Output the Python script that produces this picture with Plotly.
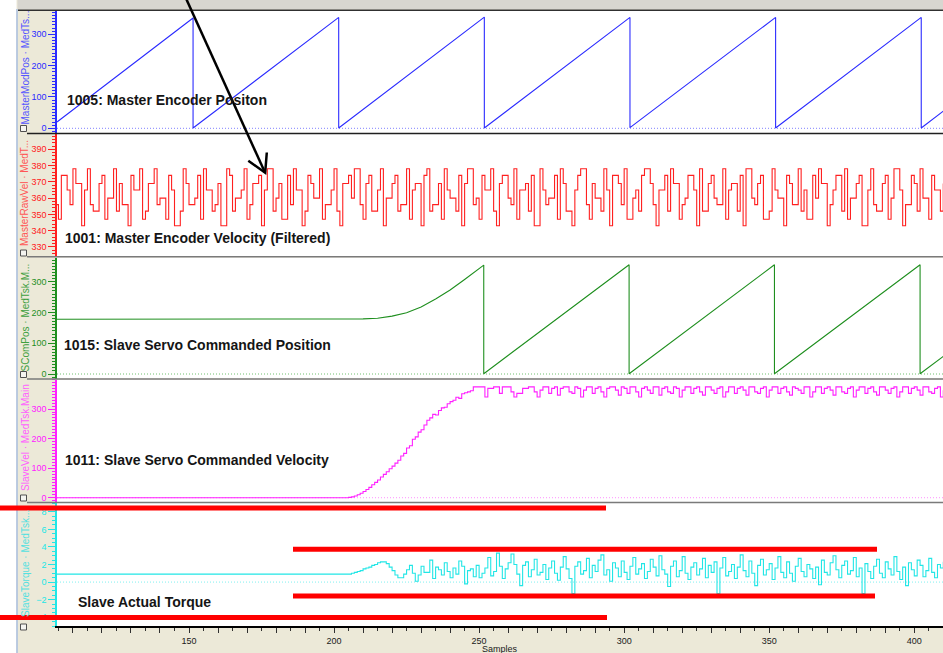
import plotly.graph_objects as go

# ---------------------------------------------------------------- data
# shared sample axis
x_range = [104.5, 409.9]
x_tick_vals = list(range(110, 411, 10))
x_tick_text = [str(v) if v % 50 == 0 else "" for v in x_tick_vals]

# 1005: master encoder position, sawtooth breakpoints (sample, deg)
master_pos_samples = [104.5, 151.4, 151.4, 201.6, 201.6, 251.8, 251.8,
                      302.0, 302.0, 352.2, 352.2, 402.4, 402.4, 410.0]
master_pos_values = [20, 352, 1, 354, 1, 355, 1, 354, 2, 354, 1, 354, 1, 55]

# 1001: master encoder velocity (filtered), one value per sample from 104
master_vel_values = [
    356,
    347, 374, 374, 365, 356, 378, 369, 369, 343, 365,
    378, 356, 352, 352, 369, 374, 347, 360, 360, 378,
    352, 369, 356, 356, 343, 374, 365, 365, 378, 347,
    352, 369, 369, 378, 356, 360, 360, 347, 374, 365,
    343, 343, 352, 378, 369, 356, 356, 360, 374, 347,
    378, 365, 365, 352, 356, 369, 343, 343, 378, 374,
    352, 360, 360, 365, 378, 347, 356, 369, 369, 374,
    343, 365, 378, 378, 352, 360, 369, 347, 347, 374,
    356, 378, 365, 365, 343, 352, 374, 369, 360, 360,
    378, 347, 356, 356, 365, 378, 352, 343, 369, 369,
    374, 360, 378, 378, 356, 347, 369, 374, 352, 352,
    365, 378, 343, 360, 360, 369, 374, 352, 356, 356,
    378, 347, 365, 369, 369, 343, 374, 378, 352, 356,
    356, 369, 347, 378, 365, 360, 360, 352, 374, 343,
    369, 378, 378, 356, 360, 347, 374, 365, 365, 378,
    352, 343, 369, 374, 374, 360, 356, 378, 347, 365,
    365, 369, 352, 374, 343, 343, 378, 365, 356, 360,
    360, 374, 347, 378, 369, 352, 352, 343, 365, 374,
    378, 378, 356, 347, 369, 360, 360, 352, 378, 365,
    343, 374, 374, 369, 356, 378, 347, 347, 360, 365,
    352, 374, 378, 378, 369, 356, 343, 365, 365, 374,
    352, 378, 369, 369, 347, 356, 360, 374, 374, 365,
    343, 378, 352, 352, 369, 374, 360, 356, 356, 378,
    347, 365, 369, 369, 352, 374, 343, 378, 378, 360,
    356, 369, 374, 347, 347, 352, 378, 365, 360, 360,
    343, 374, 369, 356, 356, 378, 352, 365, 347, 347,
    374, 360, 378, 369, 369, 343, 356, 365, 374, 374,
    352, 378, 347, 360, 360, 369, 374, 343, 343, 365,
    378, 356, 352, 352, 369, 374, 347, 360, 378, 378,
    365, 343, 356, 356, 374, 369, 352, 378, 360, 360,
    347, 374, 365, 365, 352, 369,
]
master_vel_samples = list(range(104, 104 + len(master_vel_values)))

# 1015: slave servo commanded position, breakpoints (sample, deg)
slave_pos_samples = [104.5, 205, 210, 215, 220, 225, 230, 235, 240, 245,
                     251.6, 251.6, 301.7, 301.7, 351.8, 351.8, 402.0, 402.0, 410.0]
slave_pos_values = [178, 178, 179, 181, 188, 199, 218, 244, 273, 307,
                    354, 1, 355, 1, 355, 1, 355, 1, 57]

# 1011: slave servo commanded velocity; held at 0 from 104, then per sample from 204
slave_vel_values = [
    0,
    0, 1, 3, 6, 10, 15, 21, 28, 35, 44,
    52, 60, 70, 79, 88, 98, 107, 117, 127, 141,
    150, 168, 176, 198, 206, 222, 230, 246, 262, 270,
    282, 280, 295, 304, 306, 318, 325, 330, 340, 336,
    352, 355, 358, 362, 375, 375, 375, 375, 341, 370,
    370, 375, 375, 353, 375, 375, 375, 358, 341, 353,
    353, 370, 370,
    375, 375, 358, 341, 364, 375, 375, 353, 370, 375,
    347, 370, 375, 375, 358, 353, 375, 370, 341, 364,
    375, 375, 353, 370, 375, 358, 341, 370, 375, 375,
    364, 347, 375, 370, 353, 375, 375, 358, 341, 370,
    375, 364, 353, 375, 375, 347, 370, 375, 358, 353,
    375, 370, 341, 364, 375, 375, 353, 370, 375, 358,
    347, 375, 375, 364, 353, 370, 375, 341, 358, 375,
    375, 353, 370, 375, 364, 347, 375, 375, 358, 353,
    370, 375, 341, 364, 375, 375, 353, 370, 375, 358,
    347, 375, 370, 364, 353, 375, 375, 341, 358, 375,
    375, 353, 370, 375, 364, 347, 375, 375, 358, 353,
    370, 375, 341, 364, 375, 375, 353, 370, 375, 358,
    347, 375, 375, 364, 353, 370, 375, 341, 358, 375,
    375, 353, 370, 375, 364, 347, 375, 375, 358, 353,
    370, 375, 341, 364,
]
slave_vel_samples = [104] + list(range(204, 204 + len(slave_vel_values) - 1))

# slave actual torque; held from 104, then per sample from 206
slave_torque_values = [
    0.9,
    1.0, 1.1, 1.2, 1.3, 1.5, 1.6, 1.7, 1.9, 2.0, 2.2,
    2.3, 2.3, 2.1, 1.7, 1.3, 0.8, 0.5, 0.5, 0.9, 1.4,
    1.9, 1.0, 0.1, 0.8, 1.8, 1.1, 1.1, 2.5, 0.4, 1.7,
    1.4, 0.8, 2.2, 1.2, 0.5, 1.6, 0.9, 2.4, 1.8, -0.2,
    1.3, 1.5, 0.6, 1.9, 0.5, 1.0, 1.6, 2.8, 0.7, 1.2,
    3.3, 1.8, 0.4, 1.5, 2.2, 3.2, 2.0, 0.9, -0.4, 1.9,
    2.3, 0.6, 1.4, 2.6, 0.8, 1.1, 2.0, 0.3, 1.6, 2.4,
    1.0, 0.2, 1.7, 2.9, 1.5, 0.4, -1.3, 1.8, 2.3, 0.9,
    1.3, 2.7, 0.5, 1.9, 1.2, 2.5, 3.1, 0.8, 1.4, 0.1,
    2.2, 1.6, 0.6, 2.4, 1.1, 0.3, 1.8, 2.8, 0.9, 1.5,
    2.1, 0.4, 1.2, 2.6, 1.7, 0.7, 3.0, 1.4, 0.9, -0.5,
    1.8, 2.4, 0.6, 1.3, 2.9, 1.0, 0.3, 1.7, 2.2, 0.8,
    1.5, 2.7, 0.5, 1.9, 1.1, 2.3, -1.3, 1.6, 2.8, 0.7,
    1.2, 2.0, 0.4, 1.7, 3.1, 1.3, 0.6, 2.4, 1.0, -0.4,
    1.9, 2.6, 0.8, 1.4, 2.1, 0.3, 1.6, 2.9, 1.1, 0.5,
    2.3, 1.0, 0.1, 1.8, 2.7, 1.2, 0.6, 2.0, 1.5, 0.4,
    1.7, -0.3, 2.5, 1.1, 0.8, 2.2, 3.0, 1.4, 0.5, 1.9,
    2.4, 0.9, 1.3, 2.8, 0.6, 1.6, -1.3, 2.1, 1.2, 0.4,
    1.8, 2.6, 1.0, 0.5, 2.3, 1.5, 0.8, 2.9, 1.2, 0.3,
    1.7, -0.4, 2.2, 1.4, 0.7, 2.5, 1.9, 0.6, 1.3, 2.7,
    1.1, 0.5, 2.0, 1.6, 2.3,
]
slave_torque_samples = [104] + list(range(206, 206 + len(slave_torque_values) - 1))

# per-panel axis settings
panel_titles = ["MasterModPos · MedTs...", "MasterRawVel · MedT...", "SComPos · MedTsk.M...",
                "SlaveVel · MedTsk.Main", "SlaveTorque · MedTsk..."]
panel_labels = ["1005: Master Encoder Positon", "1001: Master Encoder Velocity (Filtered)",
                "1015: Slave Servo Commanded Position", "1011: Slave Servo Commanded Velocity",
                "Slave Actual Torque"]
y_ranges = [[-15, 376], [323.8, 399.4], [-14.6, 378.6], [-14.5, 400], [-5, 9]]
y_tick_vals = [[0, 100, 200, 300], [330, 340, 350, 360, 370, 380, 390],
               [0, 100, 200, 300], [0, 100, 200, 300], [-4, -2, 0, 2, 4, 6, 8]]
y_minor_step = [10, 2, 10, 10, 0.5]

# ---------------------------------------------------------------- geometry
FIG_W, FIG_H = 943, 653
L, T, R, B = 57, 10, 0, 27
W = FIG_W - L - R
H = FIG_H - T - B


def px(x):
    return (x - L) / W


def py(y):
    return (T + H - y) / H


# panel pixel extents (top, bottom)
panel_px = [(10.5, 133.0), (134.0, 257.0), (257.5, 378.5), (379.5, 502.0), (503.0, 626.0)]
colors = ["#2B2BFF", "#FF2020", "#1F8F1F", "#FF20FF", "#22E6E6"]
title_colors = ["#5555FF", "#FF5555", "#3FA03F", "#FF60FF", "#55E0E0"]
zero_colors = ["#8080FF", None, "#70C070", "#FF90FF", "#80F0F0"]
label_pos = [(65, 100.5), (63, 238), (62, 344.5), (63, 460.5), (76, 601.5)]
title_centers = [67.5, 193, 317.5, 438, 564]

fig = go.Figure()

series = [
    (master_pos_samples, master_pos_values, "linear"),
    (master_vel_samples, master_vel_values, "hv"),
    (slave_pos_samples, slave_pos_values, "linear"),
    (slave_vel_samples, slave_vel_values, "hv"),
    (slave_torque_samples, slave_torque_values, "hv"),
]
for i, (xs, ys, shp) in enumerate(series):
    fig.add_trace(go.Scatter(
        x=xs, y=ys, mode="lines", xaxis="x", yaxis="y" if i == 0 else f"y{i + 1}",
        line=dict(color=colors[i], width=1.1, shape=shp), hoverinfo="skip", showlegend=False))

layout = dict(
    width=FIG_W, height=FIG_H,
    margin=dict(l=L, r=R, t=T, b=B),
    paper_bgcolor="#ECE9D8", plot_bgcolor="#FFFFFF",
    showlegend=False, hovermode=False,
    font=dict(family="Liberation Sans, Arial, sans-serif", size=9, color="#202020"),
    xaxis=dict(domain=[0, 1], range=x_range, anchor="y5", showgrid=False, zeroline=False,
               showline=True, linecolor="#000000", linewidth=1.5,
               tickmode="array", tickvals=x_tick_vals, ticktext=x_tick_text,
               ticks="outside", ticklen=5, tickcolor="#303030", tickwidth=1,
               tickfont=dict(size=9, color="#202020"),
               minor=dict(tickmode="linear", tick0=0, dtick=5, ticks="outside",
                          ticklen=3, tickcolor="#303030")),
)
for i in range(5):
    top, bot = panel_px[i]
    name = "yaxis" if i == 0 else f"yaxis{i + 1}"
    layout[name] = dict(
        domain=[py(bot), py(top)], range=y_ranges[i], anchor="x",
        showgrid=False, zeroline=False, showline=True, linecolor=colors[i], linewidth=1.5,
        tickmode="array", tickvals=y_tick_vals[i], ticks="outside", ticklen=7,
        tickcolor=colors[i], tickwidth=1, tickfont=dict(size=9, color=colors[i]),
        minor=dict(tickmode="linear", tick0=0, dtick=y_minor_step[i], ticks="outside",
                   ticklen=3, tickcolor=colors[i]),
    )
fig.update_layout(**layout)

shapes = []


def hline(x0, x1, y, color, width, dash=None):
    line = dict(color=color, width=width)
    if dash:
        line["dash"] = dash
    shapes.append(dict(type="line", xref="paper", yref="paper",
                       x0=px(x0), x1=px(x1), y0=py(y), y1=py(y), line=line, layer="above"))


# window chrome: white strip at the far left, grey strip on top
shapes.append(dict(type="rect", xref="paper", yref="paper", x0=px(0), x1=px(16.5),
                   y0=py(FIG_H + 5), y1=py(-5), fillcolor="#FFFFFF", line=dict(width=0), layer="below"))
shapes.append(dict(type="line", xref="paper", yref="paper", x0=px(17), x1=px(17),
                   y0=py(FIG_H + 5), y1=py(9), line=dict(color="#A9BEDF", width=1.5), layer="below"))
shapes.append(dict(type="rect", xref="paper", yref="paper", x0=px(17.5), x1=px(FIG_W + 5),
                   y0=py(9.5), y1=py(-5), fillcolor="#D8D6D0", line=dict(width=0), layer="below"))

# dotted zero lines
for i, yaxis_ref in enumerate(["y", "y2", "y3", "y4", "y5"]):
    if zero_colors[i]:
        shapes.append(dict(type="line", xref="paper", yref=yaxis_ref, x0=0, x1=1, y0=0, y1=0,
                           line=dict(color=zero_colors[i], width=1, dash="1px,2px"), layer="below"))

# panel separators
hline(18, FIG_W, 10.2, "#303030", 1.5)
hline(27, FIG_W, 133.5, "#202020", 1.5)
hline(27, FIG_W, 256.8, "#7A7A7A", 1.5)
hline(27, FIG_W, 379.0, "#7A7A7A", 1.5)
hline(27, FIG_W, 502.4, "#7A7A7A", 1.5)

# small panel icons in the left margin
for bot in [131.5, 256.0, 377.5, 501.0, 630.0]:
    shapes.append(dict(type="rect", xref="paper", yref="paper", x0=px(20.5), x1=px(26.5),
                       y0=py(bot), y1=py(bot - 6), fillcolor="#F4F4F0",
                       line=dict(color="#505050", width=1), layer="above"))

# red marker bars
hline(0, 606, 508.0, "#FF0000", 5)
hline(293, 877, 549.3, "#FF0000", 5)
hline(293, 875, 596.0, "#FF0000", 5)
hline(0, 607, 617.5, "#FF0000", 5)

# pointer arrow
shapes.append(dict(type="line", xref="paper", yref="paper", x0=px(184), y0=py(-6),
                   x1=px(265), y1=py(172.5), line=dict(color="#000000", width=2.5), layer="above"))
shapes.append(dict(type="path", xref="paper", yref="paper",
                   path=f"M {px(248.3)} {py(160.7)} L {px(265.2)} {py(172.7)} L {px(266.8)} {py(152.5)}",
                   line=dict(color="#000000", width=2.5), layer="above"))

annotations = []
for i in range(5):
    lx, ly = label_pos[i]
    annotations.append(dict(xref="paper", yref="paper", x=px(lx), y=py(ly), xanchor="left",
                            yanchor="middle", showarrow=False, text=f"<b>{panel_labels[i]}</b>",
                            font=dict(family="Liberation Sans, Arial, sans-serif", size=14,
                                      color="#151515")))
    annotations.append(dict(xref="paper", yref="paper", x=px(25), y=py(title_centers[i]),
                            xanchor="center", yanchor="middle", showarrow=False, textangle=-90,
                            text=panel_titles[i],
                            font=dict(family="Liberation Sans, Arial, sans-serif", size=10,
                                      color=title_colors[i])))
annotations.append(dict(xref="paper", yref="paper", x=px(500), y=py(642.5), xanchor="center",
                        yanchor="top", showarrow=False, text="Samples",
                        font=dict(family="Liberation Sans, Arial, sans-serif", size=9,
                                  color="#202020")))

fig.update_layout(shapes=shapes, annotations=annotations)
fig.write_html("out.html")
